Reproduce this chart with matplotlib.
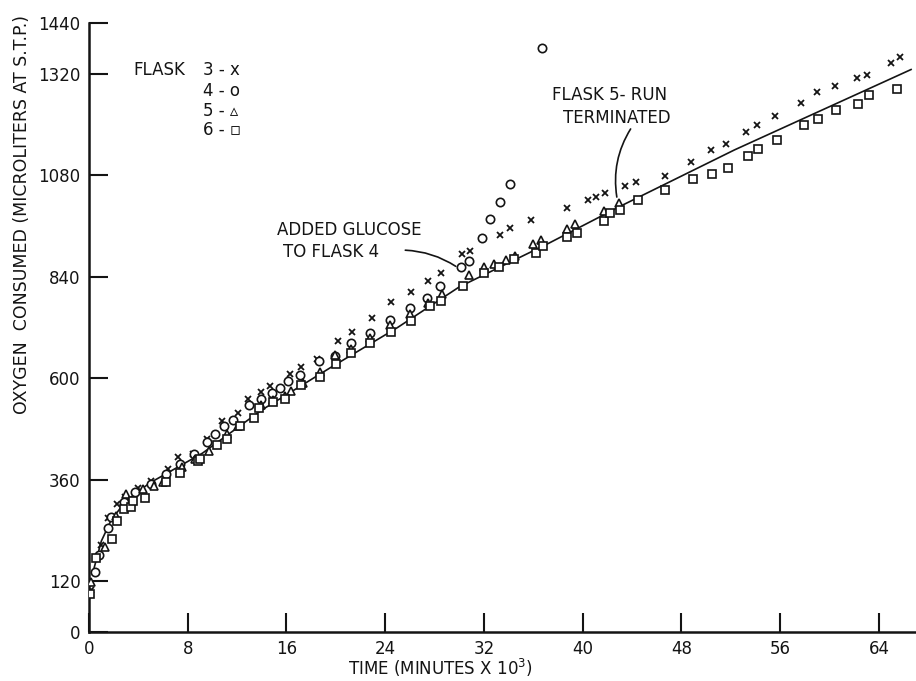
import matplotlib.pyplot as plt

# flask 3 (x)
x3 = [0.2, 1.0, 1.5, 2.3, 2.9, 4.0, 5.0, 6.4, 7.2, 8.4, 9.6, 10.8, 12.1, 12.9, 13.9,
      14.7, 16.3, 17.2, 18.5, 20.2, 21.3, 22.9, 24.5, 26.1, 27.5, 28.5, 30.2, 30.9,
      33.3, 34.1, 35.8, 38.7, 40.4, 41.1, 41.8, 43.4, 44.3, 46.7, 48.8, 50.4, 51.6,
      53.2, 54.1, 55.6, 57.7, 59.0, 60.4, 62.2, 63.0, 65.0, 65.7]
y3 = [100, 205, 269, 302, 319, 340, 357, 386, 414, 421, 457, 498, 519, 552, 567,
      581, 610, 626, 645, 688, 710, 743, 781, 805, 829, 848, 893, 902,
      938, 955, 974, 1002, 1021, 1029, 1038, 1055, 1064, 1079, 1112, 1140, 1155,
      1183, 1200, 1221, 1252, 1276, 1292, 1310, 1317, 1346, 1360]

# flask 4 (o)
x4 = [0.5, 0.8, 1.5, 1.8, 2.8, 3.7, 5.0, 6.2, 7.4, 8.5, 9.6, 10.2, 10.9, 11.7, 13.0,
      13.9, 14.8, 15.5, 16.1, 17.1, 18.6, 19.9, 21.2, 22.8, 24.4, 26.0, 27.4, 28.4,
      30.1, 30.8, 31.8, 32.5, 33.3, 34.1, 36.7]
y4 = [143, 183, 245, 271, 307, 331, 350, 374, 398, 420, 450, 467, 486, 502, 536,
      552, 564, 576, 593, 607, 640, 652, 683, 707, 738, 767, 790, 819,
      862, 878, 931, 976, 1017, 1060, 1381]

# flask 5 (triangle)
x5 = [0.2, 1.3, 2.2, 3.0, 4.4, 5.3, 6.0, 7.5, 8.6, 9.7, 11.2, 12.1, 13.9, 14.9, 15.9,
      16.4, 17.3, 18.7, 19.9, 21.2, 22.8, 24.4, 26.0, 27.5, 28.6, 30.8, 32.0, 32.8,
      33.8, 34.5, 36.0, 36.6, 38.7, 39.4, 41.7, 42.9]
y5 = [119, 202, 274, 326, 338, 345, 355, 390, 410, 429, 469, 488, 536, 548, 557,
      571, 588, 614, 655, 669, 695, 725, 752, 778, 800, 845, 862, 871,
      879, 888, 917, 926, 952, 964, 995, 1014]

# flask 6 (square)
x6 = [0.1, 0.6, 1.9, 2.3, 2.8, 3.4, 3.6, 4.5, 6.2, 7.4, 8.8, 9.0, 10.4, 11.2, 12.2,
      13.4, 13.8, 14.9, 15.9, 17.2, 18.7, 20.0, 21.2, 22.8, 24.5, 26.1, 27.6, 28.5,
      30.3, 32.0, 33.2, 34.4, 36.2, 36.8, 38.7, 39.5, 41.7, 42.2, 43.0, 44.5, 46.7,
      48.9, 50.5, 51.8, 53.4, 54.2, 55.7, 57.9, 59.1, 60.5, 62.3, 63.2, 65.5]
y6 = [90, 176, 219, 262, 290, 295, 310, 317, 355, 376, 405, 410, 443, 457, 486,
      507, 529, 543, 552, 583, 602, 633, 660, 683, 710, 736, 771, 783,
      819, 850, 862, 881, 895, 912, 933, 943, 971, 990, 998, 1021, 1045,
      1071, 1083, 1098, 1126, 1143, 1164, 1200, 1214, 1235, 1248, 1269, 1285]

# hand-drawn fit curve
line_x = [0.4, 1.0, 1.8, 3.0, 4.9, 9.2, 14.0, 19.5, 25.0, 30.0, 37.3, 43.2, 52.3, 66.6]
line_y = [150, 215, 265, 310, 352, 423, 525, 624, 720, 816, 920, 1009, 1140, 1330]

x_ticks = [0, 8, 16, 24, 32, 40, 48, 56, 64]
y_ticks = [0, 120, 360, 600, 840, 1080, 1320, 1440]

plt.rcParams['font.family'] = ['DejaVu Sans']
ink = '#141414'

fig = plt.figure(figsize=(9.16, 6.81), dpi=100)
ax = fig.add_axes([89/916, 49/681, 827/916, 609/681])

ax.plot(line_x, line_y, color=ink, lw=1.2, zorder=2)
mk = dict(ls='none', mfc='white', mec=ink, mew=1.2, zorder=3)
ax.plot(x3, y3, marker='x', color=ink, ms=4.8, mew=1.3, ls='none', zorder=3)
ax.plot(x4, y4, marker='o', ms=6, **mk)
ax.plot(x5, y5, marker='^', ms=5.5, **mk)
ax.plot(x6, y6, marker='s', ms=5.5, **mk)

ax.set_xlim(0, 67)
ax.set_ylim(0, 1440)
ax.set_xticks(x_ticks)
ax.set_yticks(y_ticks)
ax.tick_params(axis='both', direction='in', length=14, width=1.5, colors=ink,
               labelsize=12)
ax.tick_params(axis='x', pad=6)
ax.tick_params(axis='y', pad=6)
for s in ['top', 'right']:
    ax.spines[s].set_visible(False)
for s in ['left', 'bottom']:
    ax.spines[s].set_linewidth(1.8)
    ax.spines[s].set_color(ink)

fig.text(440/916, 1 - 668/681, 'TIME (MINUTES X 10$^3$)', ha='center', va='center',
         fontsize=12, color=ink)
fig.text(22/916, 1 - 214/681, 'OXYGEN  CONSUMED (MICROLITERS AT S.T.P.)',
         rotation=90, ha='center', va='center', fontsize=12.5, color=ink)

# legend drawn as lettering
ax.text(3.6, 1329, 'FLASK', fontsize=12, va='center', color=ink)
for lbl, yy in zip(['3 - x', '4 - o', '5 - ▵', '6 - ▫'], [1329, 1280, 1232, 1187]):
    ax.text(9.2, yy, lbl, fontsize=12, va='center', color=ink)

ax.text(15.2, 950, 'ADDED GLUCOSE', fontsize=12, va='center', color=ink)
ax.text(15.7, 898, 'TO FLASK 4', fontsize=12, va='center', color=ink)
ax.annotate('', xy=(29.9, 861), xytext=(25.4, 903),
            arrowprops=dict(arrowstyle='-', color=ink, lw=1.2,
                            connectionstyle='arc3,rad=-0.15'))

ax.text(37.5, 1270, 'FLASK 5- RUN', fontsize=12, va='center', color=ink)
ax.text(38.4, 1215, 'TERMINATED', fontsize=12, va='center', color=ink)
ax.annotate('', xy=(42.8, 1022), xytext=(44.0, 1195),
            arrowprops=dict(arrowstyle='-', color=ink, lw=1.2,
                            connectionstyle='arc3,rad=0.2'))

plt.savefig('out.png', dpi=100)
